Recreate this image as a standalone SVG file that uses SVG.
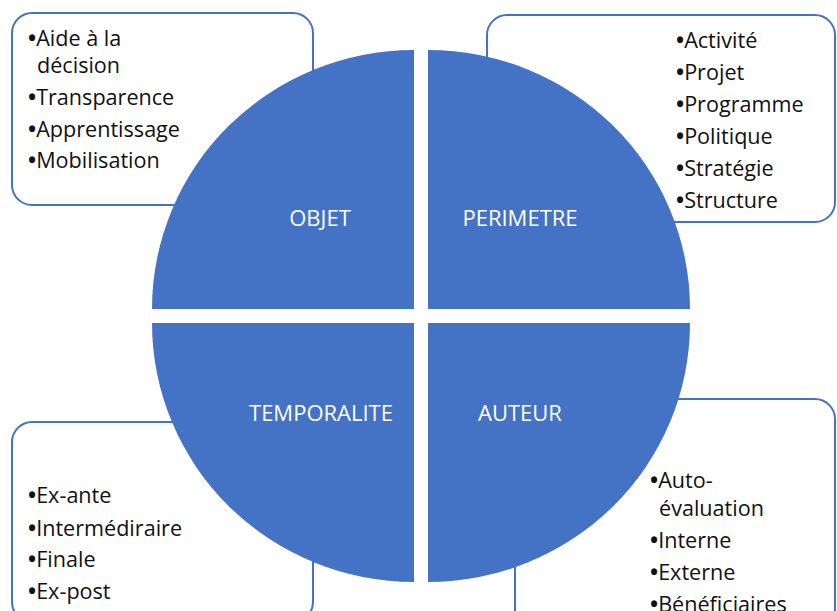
<svg xmlns="http://www.w3.org/2000/svg" width="837" height="611" viewBox="0 0 837 611">
  <style>
    .box { fill: #ffffff; stroke: #4472C4; stroke-width: 2; }
    .quad { fill: #4472C4; }
    .item { font-family: "Open Sans", "Noto Sans", sans-serif; font-size: 21.6px; fill: #111111; }
    .item tspan.b { font-weight: 700; }
    .label { font-family: "Open Sans", "Noto Sans", sans-serif; font-size: 22px; fill: #ffffff; text-anchor: middle; }
  </style>
  <rect width="837" height="611" fill="#ffffff"/>

  <!-- detail boxes, drawn behind the disc -->
  <g id="box-objet">
    <rect class="box" x="12" y="13" width="301" height="192" rx="20"/>
    <text class="item" x="28" y="46"><tspan class="b">•</tspan>Aide à la</text>
    <text class="item" x="37" y="73">décision</text>
    <text class="item" x="28" y="105"><tspan class="b">•</tspan>Transparence</text>
    <text class="item" x="28" y="137"><tspan class="b">•</tspan>Apprentissage</text>
    <text class="item" x="28" y="168"><tspan class="b">•</tspan>Mobilisation</text>
  </g>
  <g id="box-perimetre">
    <rect class="box" x="487" y="15" width="348" height="207" rx="20"/>
    <text class="item" x="676" y="48"><tspan class="b">•</tspan>Activité</text>
    <text class="item" x="676" y="80"><tspan class="b">•</tspan>Projet</text>
    <text class="item" x="676" y="112"><tspan class="b">•</tspan>Programme</text>
    <text class="item" x="676" y="144"><tspan class="b">•</tspan>Politique</text>
    <text class="item" x="676" y="176"><tspan class="b">•</tspan>Stratégie</text>
    <text class="item" x="676" y="208"><tspan class="b">•</tspan>Structure</text>
  </g>
  <g id="box-temporalite">
    <rect class="box" x="12" y="422" width="301" height="200" rx="20"/>
    <text class="item" x="28" y="503"><tspan class="b">•</tspan>Ex-ante</text>
    <text class="item" x="28" y="536"><tspan class="b">•</tspan>Intermédiraire</text>
    <text class="item" x="28" y="567"><tspan class="b">•</tspan>Finale</text>
    <text class="item" x="28" y="599"><tspan class="b">•</tspan>Ex-post</text>
  </g>
  <g id="box-auteur">
    <rect class="box" x="515" y="399" width="320" height="230" rx="20"/>
    <text class="item" x="650" y="488"><tspan class="b">•</tspan>Auto-</text>
    <text class="item" x="659" y="516">évaluation</text>
    <text class="item" x="650" y="548"><tspan class="b">•</tspan>Interne</text>
    <text class="item" x="650" y="580"><tspan class="b">•</tspan>Externe</text>
    <text class="item" x="650" y="612"><tspan class="b">•</tspan>Bénéficiaires</text>
  </g>

  <!-- the four quarters of the disc -->
  <g id="objet">
    <path class="quad" d="M414,309 L152,309 A262,259 0 0 1 414,50 Z"/>
    <text class="label" x="320" y="226">OBJET</text>
  </g>
  <g id="perimetre">
    <path class="quad" d="M428,309 L428,50 A262,259 0 0 1 690,309 Z"/>
    <text class="label" x="520" y="226">PERIMETRE</text>
  </g>
  <g id="temporalite">
    <path class="quad" d="M414,323 L414,582 A262,259 0 0 1 152,323 Z"/>
    <text class="label" x="321" y="421">TEMPORALITE</text>
  </g>
  <g id="auteur">
    <path class="quad" d="M428,323 L690,323 A262,259 0 0 1 428,582 Z"/>
    <text class="label" x="520" y="421">AUTEUR</text>
  </g>

  <g id="connectors"/>
</svg>
